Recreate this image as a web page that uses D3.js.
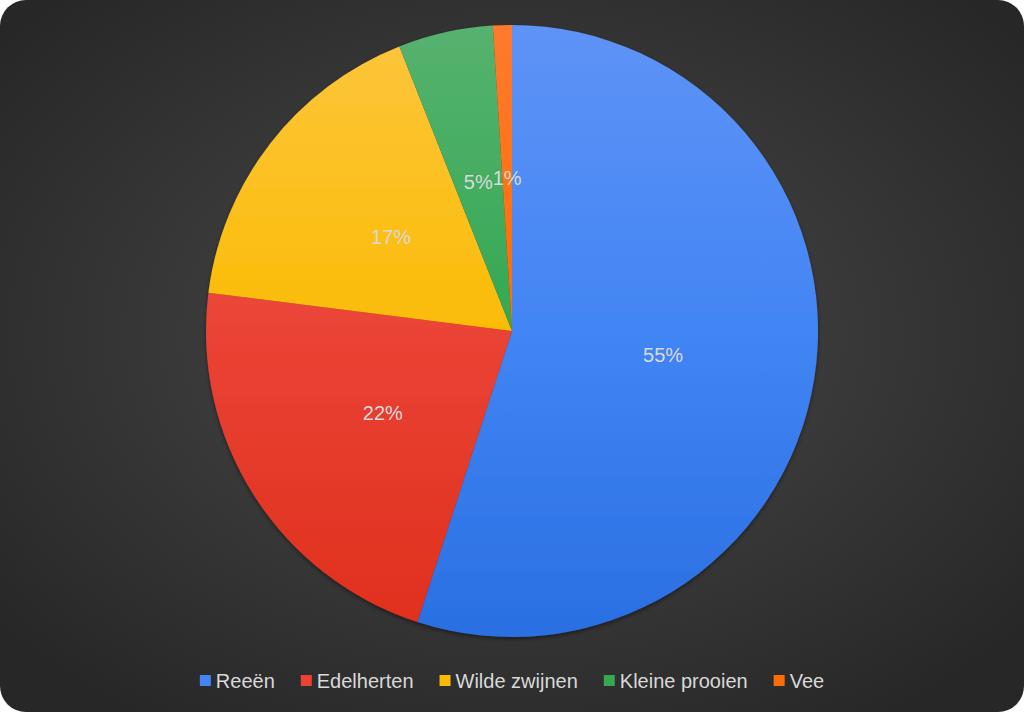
<!DOCTYPE html>
<html>
<head>
<meta charset="utf-8">
<script src="https://cdn.jsdelivr.net/npm/d3@7/dist/d3.min.js"></script>
<style>
  html, body { margin: 0; padding: 0; background: #ffffff; }
  svg { display: block; }
</style>
</head>
<body>
<svg id="chart" width="1024" height="712"></svg>
<script>
const categories = ["Reeën", "Edelherten", "Wilde zwijnen", "Kleine prooien", "Vee"];
const values = [55, 22, 17, 5, 1];
const colors = ["#4285F4", "#EA4335", "#FBBC05", "#34A853", "#FF6D01"];
const topColors = ["#5e93f6", "#f0625a", "#fcc53e", "#56b26f", "#ff7a2e"];
const bottomColors = ["#2a6fe2", "#df2f1c", "#e9b000", "#2f9e4d", "#f06000"];

const W = 1024, H = 712;
const cx = 512, cy = 331, R = 306;
const svg = d3.select("#chart");
const defs = svg.append("defs");

// background
const bg = defs.append("radialGradient").attr("id", "bgGrad")
  .attr("cx", "50%").attr("cy", "47%").attr("r", "65%");
bg.append("stop").attr("offset", "0%").attr("stop-color", "#4a4a4a");
bg.append("stop").attr("offset", "100%").attr("stop-color", "#272727");
svg.append("rect").attr("x", 0).attr("y", 0).attr("width", W).attr("height", H)
  .attr("rx", 26).attr("ry", 26).attr("fill", "url(#bgGrad)");

// shadow
const f = defs.append("filter").attr("id", "shadow").attr("x", "-10%").attr("y", "-10%").attr("width", "120%").attr("height", "120%");
f.append("feDropShadow").attr("dx", 0).attr("dy", 2).attr("stdDeviation", 2)
  .attr("flood-color", "#000").attr("flood-opacity", 0.45);

// slice gradients (in the pie group's local space)
categories.forEach((c, i) => {
  const g = defs.append("linearGradient").attr("id", "sg" + i)
    .attr("gradientUnits", "userSpaceOnUse")
    .attr("x1", 0).attr("y1", -R).attr("x2", 0).attr("y2", R);
  g.append("stop").attr("offset", "0%").attr("stop-color", topColors[i]);
  g.append("stop").attr("offset", "50%").attr("stop-color", colors[i]);
  g.append("stop").attr("offset", "100%").attr("stop-color", bottomColors[i]);
});

const data = categories.map((c, i) => ({ name: c, value: values[i], i }));
const pie = d3.pie().value(d => d.value).sort(null);
const arcs = pie(data);
const arc = d3.arc().innerRadius(0).outerRadius(R);
const labelArc = d3.arc().innerRadius(R * 0.5).outerRadius(R * 0.5);

const g = svg.append("g").attr("transform", `translate(${cx},${cy})`);
g.append("g").attr("filter", "url(#shadow)")
  .selectAll("path").data(arcs).join("path")
  .attr("d", arc)
  .attr("fill", d => `url(#sg${d.data.i})`);

const total = d3.sum(values);
const labels = g.append("g").selectAll("text").data(arcs).join("text")
  .attr("x", d => labelArc.centroid(d)[0])
  .attr("y", d => labelArc.centroid(d)[1])
  .attr("text-anchor", "middle")
  .attr("dominant-baseline", "central")
  .attr("font-family", "Liberation Sans, Arial, sans-serif")
  .attr("font-size", 20)
  .attr("fill", "#d9d9d9")
  .text(d => Math.round(d.value / total * 100) + "%");

// simple collision avoidance: shift earlier label left
const nodes = labels.nodes();
const boxes = nodes.map(n => {
  const w = n.getComputedTextLength();
  return { n, x: +n.getAttribute("x"), y: +n.getAttribute("y"), w };
});
for (let i = boxes.length - 2; i >= 0; i--) {
  const a = boxes[i], b = boxes[i + 1];
  if (Math.abs(a.y - b.y) < 20) {
    const aRight = a.x + a.w / 2, bLeft = b.x - b.w / 2;
    if (aRight > bLeft) {
      a.x = bLeft - a.w / 2;
      a.n.setAttribute("x", a.x);
    }
  }
}

// legend
const legend = svg.append("g");
const items = legend.selectAll("g").data(data).join("g");
items.append("rect").attr("width", 11).attr("height", 11).attr("y", -6)
  .attr("fill", d => colors[d.i]);
items.append("text").attr("x", 16).attr("y", 0)
  .attr("dominant-baseline", "central")
  .attr("font-family", "Liberation Sans, Arial, sans-serif")
  .attr("font-size", 20)
  .attr("fill", "#d9d9d9")
  .text(d => d.name);
let xpos = 0;
const gap = 26;
items.each(function() {
  const t = d3.select(this).select("text").node();
  d3.select(this).attr("transform", `translate(${xpos},0)`);
  xpos += 16 + t.getComputedTextLength() + gap;
});
const totalW = xpos - gap;
legend.attr("transform", `translate(${(W - totalW) / 2},681)`);
</script>
</body>
</html>
